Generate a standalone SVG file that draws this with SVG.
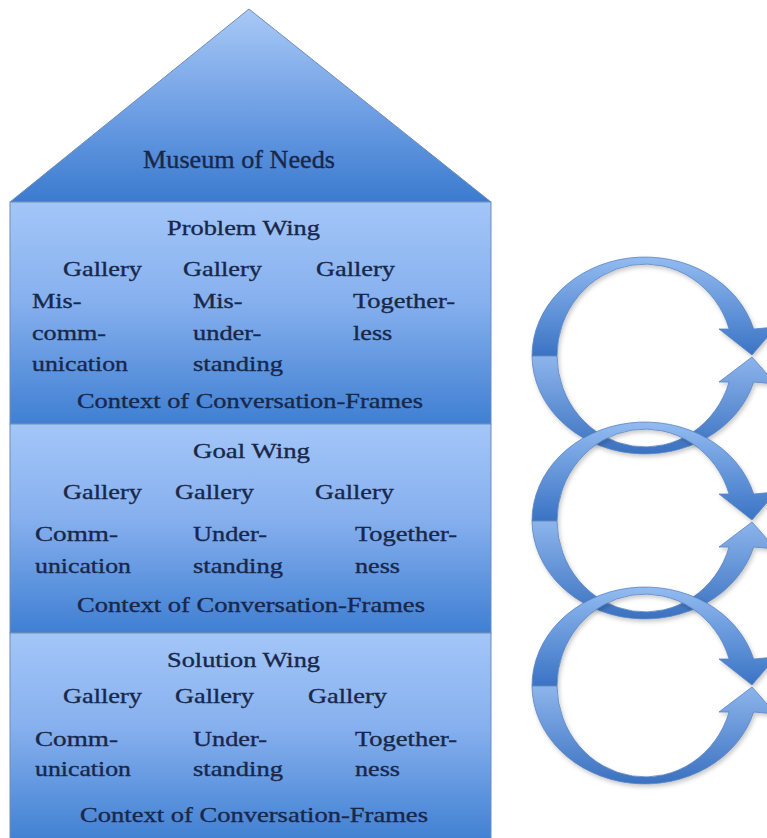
<svg xmlns="http://www.w3.org/2000/svg" width="767" height="838" viewBox="0 0 767 838">
<defs>
<linearGradient id="roofG" x1="0" y1="0" x2="0" y2="1">
<stop offset="0" stop-color="#a8c9f6"/>
<stop offset="0.55" stop-color="#6c9de3"/>
<stop offset="1" stop-color="#3b7bcf"/>
</linearGradient>
<linearGradient id="wingG" x1="0" y1="0" x2="0" y2="1">
<stop offset="0" stop-color="#a3c6f8"/>
<stop offset="0.45" stop-color="#86b0ee"/>
<stop offset="1" stop-color="#3f7fd2"/>
</linearGradient>
<linearGradient id="arcG" x1="0" y1="0" x2="0" y2="1">
<stop offset="0" stop-color="#92bbf1"/>
<stop offset="1" stop-color="#3a73c4"/>
</linearGradient>
<linearGradient id="arcL" x1="0" y1="0" x2="0" y2="1">
<stop offset="0" stop-color="#8db5ec"/>
<stop offset="1" stop-color="#3a71c0"/>
</linearGradient>
<filter id="sh" x="-10%" y="-10%" width="125%" height="125%">
<feDropShadow dx="1.5" dy="2.5" stdDeviation="2" flood-color="#000" flood-opacity="0.22"/>
</filter>
</defs>
<style>
.part{stroke:#6f8db6;stroke-width:1}
.t{font-family:"Liberation Serif","Times New Roman",serif;font-size:22px;fill:#18274a;stroke:#18274a;stroke-width:0.35}
.big{font-size:25.5px}
.arc{stroke:#5a84bf;stroke-width:0.8;filter:url(#sh)}
</style>

<g id="roof">
<polygon class="part" points="10,202 249,9 491,202" fill="url(#roofG)"/>
<text class="t big" x="143" y="168" textLength="192" lengthAdjust="spacingAndGlyphs">Museum of Needs</text>
</g>

<g id="problem-wing">
<rect class="part" x="10" y="202" width="481" height="222" fill="url(#wingG)"/>
<text class="t" x="167" y="235" textLength="153" lengthAdjust="spacingAndGlyphs">Problem Wing</text>
<text class="t" x="63" y="276" textLength="79" lengthAdjust="spacingAndGlyphs">Gallery</text>
<text class="t" x="183" y="276" textLength="79" lengthAdjust="spacingAndGlyphs">Gallery</text>
<text class="t" x="316" y="276" textLength="79" lengthAdjust="spacingAndGlyphs">Gallery</text>
<text class="t" x="32" y="308" textLength="49.5" lengthAdjust="spacingAndGlyphs">Mis-</text>
<text class="t" x="32" y="340" textLength="74" lengthAdjust="spacingAndGlyphs">comm-</text>
<text class="t" x="32" y="371" textLength="96" lengthAdjust="spacingAndGlyphs">unication</text>
<text class="t" x="193" y="308" textLength="49.5" lengthAdjust="spacingAndGlyphs">Mis-</text>
<text class="t" x="193" y="340" textLength="68.4" lengthAdjust="spacingAndGlyphs">under-</text>
<text class="t" x="193" y="371" textLength="90" lengthAdjust="spacingAndGlyphs">standing</text>
<text class="t" x="353" y="308" textLength="102" lengthAdjust="spacingAndGlyphs">Together-</text>
<text class="t" x="353" y="340" textLength="39.3" lengthAdjust="spacingAndGlyphs">less</text>
<text class="t" x="77" y="408" textLength="346" lengthAdjust="spacingAndGlyphs">Context of Conversation-Frames</text>
</g>

<g id="goal-wing">
<rect class="part" x="10" y="424" width="481" height="209" fill="url(#wingG)"/>
<text class="t" x="193" y="458" textLength="117" lengthAdjust="spacingAndGlyphs">Goal Wing</text>
<text class="t" x="63" y="499" textLength="79" lengthAdjust="spacingAndGlyphs">Gallery</text>
<text class="t" x="175" y="499" textLength="79" lengthAdjust="spacingAndGlyphs">Gallery</text>
<text class="t" x="315" y="499" textLength="79" lengthAdjust="spacingAndGlyphs">Gallery</text>
<text class="t" x="35" y="541" textLength="83" lengthAdjust="spacingAndGlyphs">Comm-</text>
<text class="t" x="35" y="573" textLength="96" lengthAdjust="spacingAndGlyphs">unication</text>
<text class="t" x="193" y="541" textLength="74" lengthAdjust="spacingAndGlyphs">Under-</text>
<text class="t" x="193" y="573" textLength="90" lengthAdjust="spacingAndGlyphs">standing</text>
<text class="t" x="355" y="541" textLength="102" lengthAdjust="spacingAndGlyphs">Together-</text>
<text class="t" x="355" y="573" textLength="45" lengthAdjust="spacingAndGlyphs">ness</text>
<text class="t" x="77" y="612" textLength="348" lengthAdjust="spacingAndGlyphs">Context of Conversation-Frames</text>
</g>

<g id="solution-wing">
<rect class="part" x="10" y="633" width="481" height="210" fill="url(#wingG)"/>
<text class="t" x="167" y="667" textLength="153" lengthAdjust="spacingAndGlyphs">Solution Wing</text>
<text class="t" x="63" y="703" textLength="79" lengthAdjust="spacingAndGlyphs">Gallery</text>
<text class="t" x="175" y="703" textLength="79" lengthAdjust="spacingAndGlyphs">Gallery</text>
<text class="t" x="308" y="703" textLength="79" lengthAdjust="spacingAndGlyphs">Gallery</text>
<text class="t" x="35" y="746" textLength="83" lengthAdjust="spacingAndGlyphs">Comm-</text>
<text class="t" x="35" y="776" textLength="96" lengthAdjust="spacingAndGlyphs">unication</text>
<text class="t" x="193" y="746" textLength="74" lengthAdjust="spacingAndGlyphs">Under-</text>
<text class="t" x="193" y="776" textLength="90" lengthAdjust="spacingAndGlyphs">standing</text>
<text class="t" x="355" y="746" textLength="102" lengthAdjust="spacingAndGlyphs">Together-</text>
<text class="t" x="355" y="776" textLength="45" lengthAdjust="spacingAndGlyphs">ness</text>
<text class="t" x="80" y="822" textLength="348" lengthAdjust="spacingAndGlyphs">Context of Conversation-Frames</text>
</g>

<g id="connectors">
<g id="cycle-1">
<path class="arc" fill="url(#arcG)" d="M532,356 A113,99 0 0 1 753.7,329 L776,327 L752,355 L719,329 L729.1,329 A88,92 0 0 0 557,356 Z"/>
<path class="arc" fill="url(#arcL)" d="M532,356 A113,99 0 0 0 753.7,382 L776,384 L752,357 L719,382 L729.1,382 A88,92 0 0 1 557,356 Z"/>
</g>
<g id="cycle-2">
<path class="arc" fill="url(#arcG)" d="M532,521 A113,99 0 0 1 753.7,494 L776,492 L752,520 L719,494 L729.1,494 A88,92 0 0 0 557,521 Z"/>
<path class="arc" fill="url(#arcL)" d="M532,521 A113,99 0 0 0 753.7,547 L776,549 L752,522 L719,547 L729.1,547 A88,92 0 0 1 557,521 Z"/>
</g>
<g id="cycle-3">
<path class="arc" fill="url(#arcG)" d="M532,686 A113,99 0 0 1 753.7,659 L776,657 L752,685 L719,659 L729.1,659 A88,92 0 0 0 557,686 Z"/>
<path class="arc" fill="url(#arcL)" d="M532,686 A113,99 0 0 0 753.7,712 L776,714 L752,687 L719,712 L729.1,712 A88,92 0 0 1 557,686 Z"/>
</g>
</g>
</svg>
